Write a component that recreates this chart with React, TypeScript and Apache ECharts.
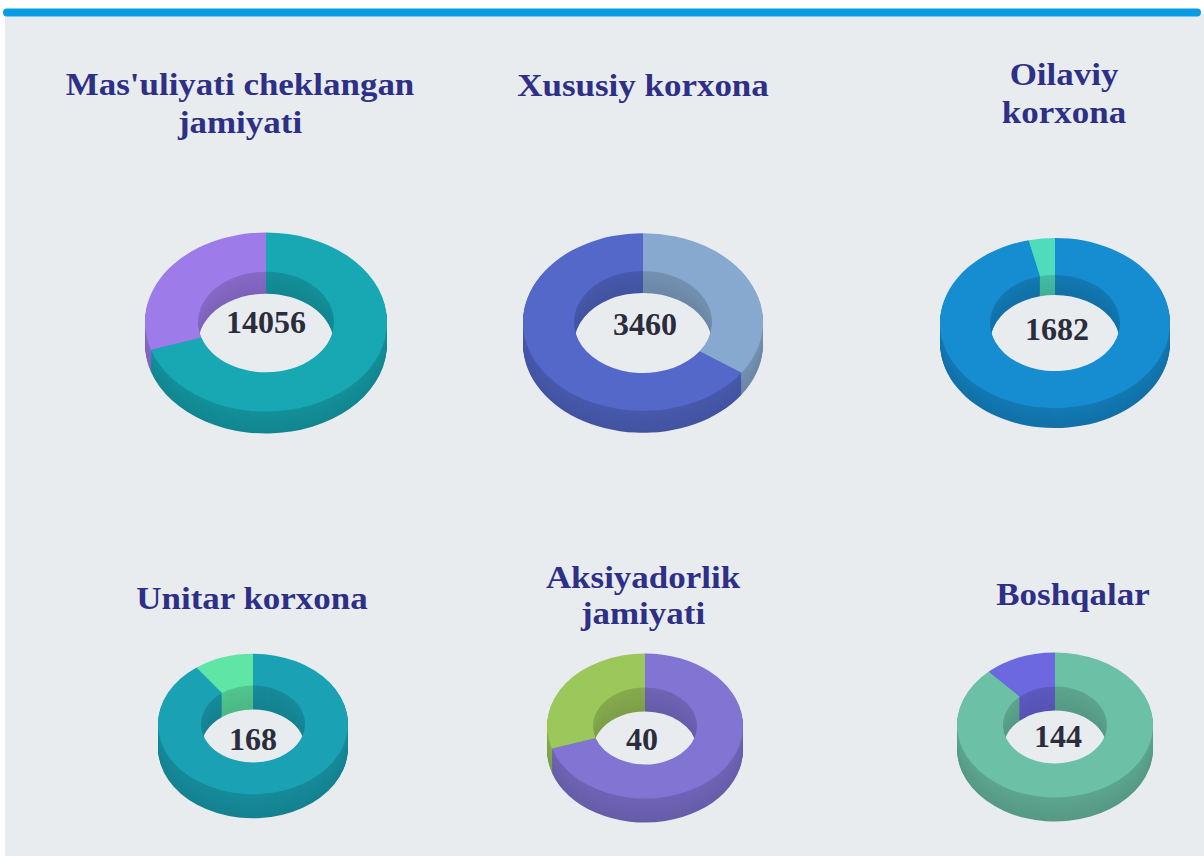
import React, { useEffect, useRef } from "react";
import * as echarts from "echarts";

// ---- data ----
const titleLines: string[][] = [
  ["Mas'uliyati cheklangan", "jamiyati"],
  ["Xususiy korxona"],
  ["Oilaviy", "korxona"],
  ["Unitar korxona"],
  ["Aksiyadorlik", "jamiyati"],
  ["Boshqalar"],
];
const masuliyatiValues = [9839, 4217];
const xususiyValues = [1200, 2260];
const oilaviyValues = [1620, 62];
const unitarValues = [151, 17];
const aksiyadorlikValues = [28, 12];
const boshqalarValues = [127, 17];

const allValues = [
  masuliyatiValues,
  xususiyValues,
  oilaviyValues,
  unitarValues,
  aksiyadorlikValues,
  boshqalarValues,
];

// ---- layout & styles ----
const RATIO = 0.74;
const layout = [
  { cx: 266, cy: 322, R: 121, r: 68, depth: 22, titleX: 240, titleY: [84.5, 122], labelX: 266, labelY: 322, colors: ["#17a8b4", "#9d7be8"] },
  { cx: 643, cy: 322, R: 120, r: 69, depth: 22, titleX: 643, titleY: [85.5], labelX: 645, labelY: 324, colors: ["#88a9cf", "#5468c9"] },
  { cx: 1055, cy: 323, R: 115, r: 65, depth: 20, titleX: 1064, titleY: [74, 112], labelX: 1057, labelY: 329, colors: ["#168dd0", "#4fdcbd"] },
  { cx: 253, cy: 724, R: 95, r: 52, depth: 24, titleX: 252, titleY: [598.5], labelX: 253, labelY: 739, colors: ["#1aa2b4", "#5fe6a6"] },
  { cx: 645, cy: 726, R: 98, r: 52, depth: 24, titleX: 643, titleY: [577.5, 613.5], labelX: 642, labelY: 739, colors: ["#8174d3", "#9cc75a"] },
  { cx: 1055, cy: 725, R: 98, r: 52, depth: 24, titleX: 1073, titleY: [594.5], labelX: 1058, labelY: 736, colors: ["#6cc0a5", "#6c68e0"] },
];

function darken(hex: string, f: number): string {
  const n = parseInt(hex.slice(1), 16);
  const r = Math.round(((n >> 16) & 255) * f);
  const g = Math.round(((n >> 8) & 255) * f);
  const b = Math.round((n & 255) * f);
  return `rgb(${r},${g},${b})`;
}

function makeRenderItem(values: number[], L: any) {
  const total = values.reduce((a, b) => a + b, 0);
  return (params: any, api: any) => {
    const i = params.dataIndex;
    const v = api.value(0);
    let before = 0;
    for (let k = 0; k < i; k++) before += values[k];
    const a0 = -Math.PI / 2 + (before / total) * 2 * Math.PI;
    const a1 = a0 + (v / total) * 2 * Math.PI;
    const top = L.colors[i];
    const shape = { cx: 0, cy: 0, r: L.R, r0: L.r, startAngle: a0, endAngle: a1, clockwise: true };
    const children: any[] = [];
    for (let k = L.depth; k >= 1; k--) {
      const f = 0.86 - 0.06 * (k / L.depth);
      children.push({
        type: "sector",
        x: L.cx,
        y: L.cy + k,
        scaleY: RATIO,
        z2: L.depth - k,
        shape,
        style: { fill: darken(top, f) },
      });
    }
    children.push({
      type: "sector",
      x: L.cx,
      y: L.cy,
      scaleY: RATIO,
      z2: 100,
      shape,
      style: { fill: top },
    });
    return { type: "group", children };
  };
}

export default function App() {
  const ref = useRef<HTMLDivElement>(null);
  useEffect(() => {
    if (!ref.current) return;
    const chart = echarts.init(ref.current, null, { renderer: "svg" });
    const graphics: any[] = [
      { type: "rect", z: 0, shape: { x: 5, y: 14, width: 1199, height: 842 }, style: { fill: "#e9ecef" } },
      { type: "rect", z: 1, shape: { x: 3, y: 8.5, width: 1198, height: 8, r: 4 }, style: { fill: "#079de6" } },
    ];
    layout.forEach((L, idx) => {
      titleLines[idx].forEach((line, li) => {
        graphics.push({
          type: "text",
          z: 10,
          x: L.titleX,
          y: L.titleY[li],
          scaleX: 1.11,
          style: {
            text: line,
            fontFamily: "Liberation Serif",
            fontWeight: "bold",
            fontSize: 31.5,
            fill: "#2e2f86",
            textAlign: "center",
            textVerticalAlign: "middle",
            verticalAlign: "middle",
          },
        });
      });
      const total = allValues[idx].reduce((a, b) => a + b, 0);
      graphics.push({
        type: "text",
        z: 10,
        x: L.labelX,
        y: L.labelY,
        style: {
          text: String(total),
          fontFamily: "Liberation Serif",
          fontWeight: "bold",
          fontSize: 32,
          fill: "#2b2c3c",
          textAlign: "center",
          textVerticalAlign: "middle",
          verticalAlign: "middle",
        },
      });
    });
    chart.setOption({
      animation: false,
      backgroundColor: "#ffffff",
      graphic: graphics,
      series: allValues.map((vals, idx) => ({
        type: "custom",
        coordinateSystem: "none",
        silent: true,
        z: 2,
        data: vals.map((v) => [v]),
        renderItem: makeRenderItem(vals, layout[idx]),
      })),
    });
    return () => chart.dispose();
  }, []);
  return (
    <div
      ref={ref}
      style={{ position: "absolute", left: 0, top: 0, width: 1204, height: 856 }}
    />
  );
}
